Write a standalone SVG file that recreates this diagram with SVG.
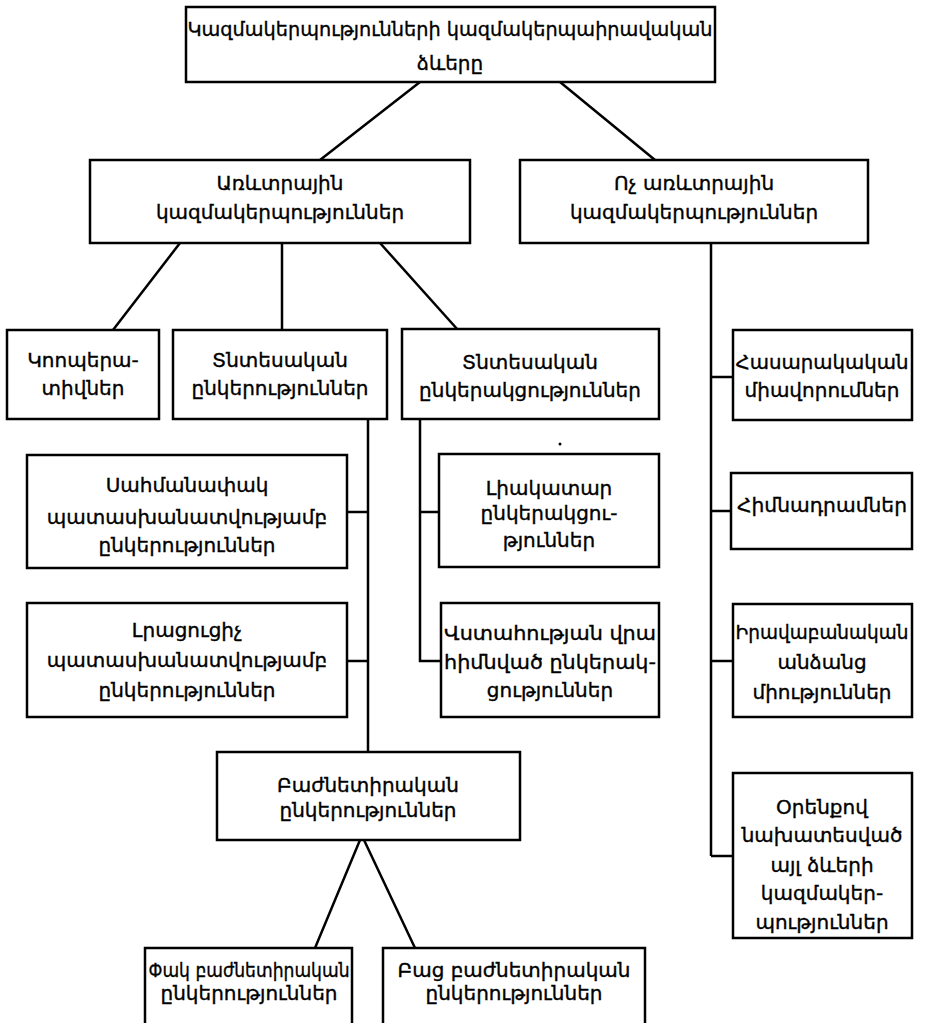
<svg xmlns="http://www.w3.org/2000/svg" width="938" height="1023" viewBox="0 0 938 1023">
<style>
rect{fill:#fff;stroke:#000;stroke-width:2.5}
text{font-family:"DejaVu Sans","Noto Sans",sans-serif;font-size:20px;text-anchor:middle;fill:#000;stroke:#000;stroke-width:0.35}
#connectors line,#connectors polyline{stroke:#000;stroke-width:2.5;fill:none}
</style>
<rect x="0" y="0" width="938" height="1023" style="stroke:none"/>
<g id="connectors">
<line x1="420" y1="82" x2="320" y2="160"/>
<line x1="560" y1="82" x2="655" y2="160"/>
<line x1="180" y1="243" x2="113" y2="330"/>
<line x1="282" y1="243" x2="282" y2="330"/>
<line x1="380" y1="243" x2="458" y2="330"/>
<line x1="368" y1="419" x2="368" y2="752"/>
<line x1="347" y1="512" x2="368" y2="512"/>
<line x1="347" y1="661" x2="368" y2="661"/>
<polyline points="420,419 420,661 441,661"/>
<line x1="420" y1="512" x2="439" y2="512"/>
<line x1="711" y1="243" x2="711" y2="856"/>
<line x1="711" y1="377" x2="733" y2="377"/>
<line x1="711" y1="511" x2="731" y2="511"/>
<line x1="711" y1="661" x2="733" y2="661"/>
<line x1="711" y1="856" x2="733" y2="856"/>
<line x1="360" y1="840" x2="315" y2="948"/>
<line x1="364" y1="840" x2="415" y2="948"/>
<circle cx="560" cy="444" r="1.5" fill="#000"/>
</g>
<g id="n-root"><rect x="186" y="7" width="529" height="75"/>
<text x="450" y="36" textLength="525" lengthAdjust="spacingAndGlyphs">Կազմակերպությունների  կազմակերպաիրավական</text>
<text x="450" y="70">ձևերը</text></g>
<g id="n-commercial"><rect x="90" y="160" width="380" height="83"/>
<text x="280" y="190">Առևտրային</text><text x="280" y="219">կազմակերպություններ</text></g>
<g id="n-noncommercial"><rect x="520" y="160" width="348" height="83"/>
<text x="694" y="190">Ոչ առևտրային</text><text x="694" y="219">կազմակերպություններ</text></g>
<g id="n-coop"><rect x="7" y="330" width="152" height="89"/>
<text x="83" y="367">Կոոպերա-</text><text x="83" y="395">տիվներ</text></g>
<g id="n-companies"><rect x="173" y="330" width="214" height="89"/>
<text x="280" y="367">Տնտեսական</text><text x="280" y="395">ընկերություններ</text></g>
<g id="n-partnerships"><rect x="402" y="329" width="257" height="90"/>
<text x="530" y="369">Տնտեսական</text><text x="530" y="397">ընկերակցություններ</text></g>
<g id="n-llc"><rect x="27" y="455" width="320" height="113"/>
<text x="187" y="492">Սահմանափակ</text><text x="187" y="524">պատասխանատվությամբ</text><text x="187" y="552">ընկերություններ</text></g>
<g id="n-alc"><rect x="27" y="603" width="320" height="114"/>
<text x="187" y="637">Լրացուցիչ</text><text x="187" y="667">պատասխանատվությամբ</text><text x="187" y="697">ընկերություններ</text></g>
<g id="n-general"><rect x="439" y="454" width="220" height="113"/>
<text x="549" y="495">Լիակատար</text><text x="549" y="520">ընկերակցու-</text><text x="549" y="547">թյուններ</text></g>
<g id="n-limited"><rect x="441" y="603" width="218" height="114"/>
<text x="550" y="640" textLength="212" lengthAdjust="spacingAndGlyphs">Վստահության վրա</text><text x="550" y="669" textLength="212" lengthAdjust="spacingAndGlyphs">հիմնված ընկերակ-</text><text x="550" y="697">ցություններ</text></g>
<g id="n-jsc"><rect x="217" y="752" width="303" height="88"/>
<text x="368" y="792">Բաժնետիրական</text><text x="368" y="817">ընկերություններ</text></g>
<g id="n-closed"><rect x="145" y="948" width="207" height="82"/>
<text x="249" y="977" textLength="201" lengthAdjust="spacingAndGlyphs">Փակ բաժնետիրական</text><text x="249" y="1000">ընկերություններ</text></g>
<g id="n-open"><rect x="383" y="948" width="262" height="82"/>
<text x="514" y="977">Բաց բաժնետիրական</text><text x="514" y="1000">ընկերություններ</text></g>
<g id="n-public"><rect x="733" y="330" width="179" height="90"/>
<text x="822" y="369" textLength="173" lengthAdjust="spacingAndGlyphs">Հասարակական</text><text x="822" y="397">միավորումներ</text></g>
<g id="n-foundations"><rect x="731" y="473" width="181" height="76"/>
<text x="822" y="512" textLength="170" lengthAdjust="spacingAndGlyphs">Հիմնադրամներ</text></g>
<g id="n-unions"><rect x="733" y="604" width="179" height="113"/>
<text x="822" y="639" textLength="173" lengthAdjust="spacingAndGlyphs">Իրավաբանական</text><text x="822" y="669">անձանց</text><text x="822" y="699">միություններ</text></g>
<g id="n-other"><rect x="733" y="773" width="179" height="165"/>
<text x="822" y="814">Օրենքով</text><text x="822" y="842">նախատեսված</text><text x="822" y="872">այլ ձևերի</text><text x="822" y="900">կազմակեր-</text><text x="822" y="929">պություններ</text></g>
</svg>
